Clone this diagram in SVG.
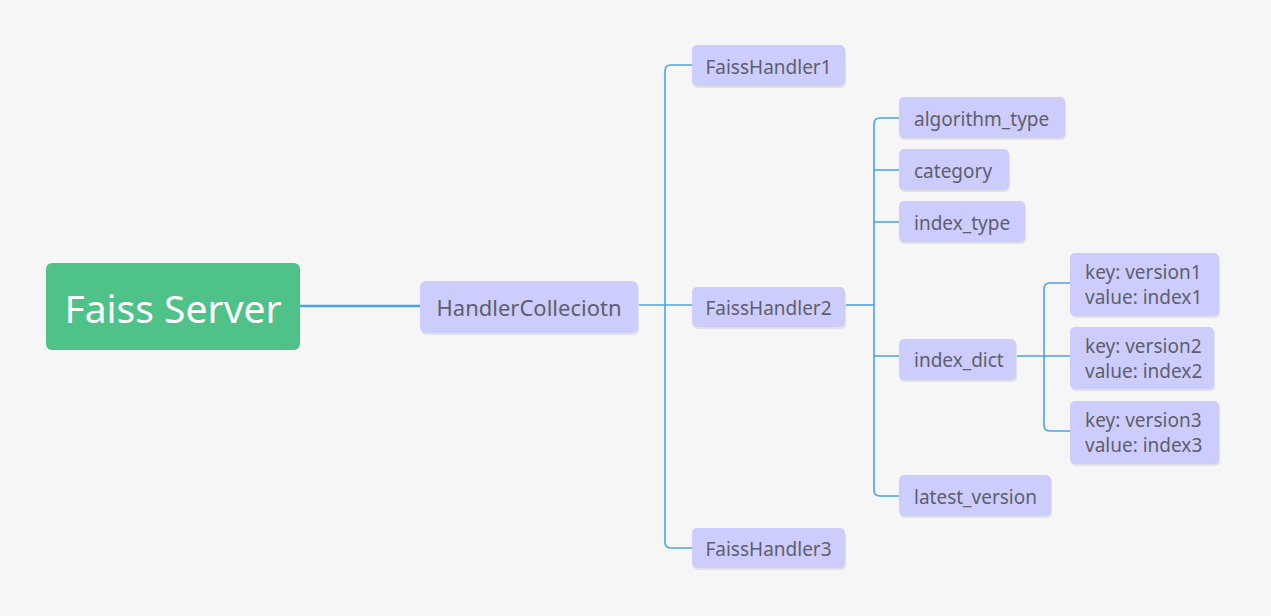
<svg xmlns="http://www.w3.org/2000/svg" width="1271" height="616" viewBox="0 0 1271 616">
<defs>
<style>
.bg{fill:#f6f6f6}
.n{fill:#cdcdfd}
.sh{fill:#e0e0e8}
.t{font-family:"Noto Sans","Open Sans",sans-serif;fill:#5e5e6e;font-size:19px}
.c{fill:none;stroke:#4aa3e8;stroke-width:1.6}
</style>
</defs>
<rect class="bg" x="0" y="0" width="1271" height="616"/>
<g id="connectors">
<path class="c" d="M300 306 H420" style="stroke-width:2.4"/>
<path class="c" d="M638 305 H692"/>
<path class="c" d="M692 65 H671 Q665 65 665 71 V542 Q665 548 671 548 H692"/>
<path class="c" d="M845 305 H874"/>
<path class="c" d="M899 118 H880 Q874 118 874 124 V490 Q874 496 880 496 H899"/>
<path class="c" d="M874 170 H899 M874 222 H899 M874 356 H899"/>
<path class="c" d="M1016 356 H1070"/>
<path class="c" d="M1070 283 H1050 Q1044 283 1044 289 V425 Q1044 431 1050 431 H1070"/>
</g>
<g id="faiss-server">
<rect x="46" y="263" width="254" height="87" rx="6" fill="#4fc28a"/>
<text x="173" y="323" text-anchor="middle" font-family="'Noto Sans','Open Sans',sans-serif" font-size="39" fill="#ffffff">Faiss Server</text>
</g>
<g id="handler-collection">
<rect class="sh" x="421" y="283" width="218" height="52" rx="6"/>
<rect class="n" x="420" y="281" width="218" height="52" rx="6"/>
<text class="t" x="529" y="316" text-anchor="middle" style="font-size:22px">HandlerColleciotn</text>
</g>
<g id="faiss-handler1">
<rect class="sh" x="693" y="47" width="153" height="41" rx="5"/>
<rect class="n" x="692" y="45" width="153" height="41" rx="5"/>
<text class="t" x="768.5" y="74" text-anchor="middle">FaissHandler1</text>
</g>
<g id="faiss-handler2">
<rect class="sh" x="693" y="289" width="153" height="40" rx="5"/>
<rect class="n" x="692" y="287" width="153" height="40" rx="5"/>
<text class="t" x="768.5" y="315" text-anchor="middle">FaissHandler2</text>
</g>
<g id="faiss-handler3">
<rect class="sh" x="693" y="530" width="153" height="40" rx="5"/>
<rect class="n" x="692" y="528" width="153" height="40" rx="5"/>
<text class="t" x="768.5" y="556" text-anchor="middle">FaissHandler3</text>
</g>
<g id="algorithm-type">
<rect class="sh" x="900" y="99" width="166" height="41" rx="5"/>
<rect class="n" x="899" y="97" width="166" height="41" rx="5"/>
<text class="t" x="914" y="126">algorithm_type</text>
</g>
<g id="category">
<rect class="sh" x="900" y="151" width="110" height="41" rx="5"/>
<rect class="n" x="899" y="149" width="110" height="41" rx="5"/>
<text class="t" x="914" y="178">category</text>
</g>
<g id="index-type">
<rect class="sh" x="900" y="203" width="126" height="41" rx="5"/>
<rect class="n" x="899" y="201" width="126" height="41" rx="5"/>
<text class="t" x="914" y="230">index_type</text>
</g>
<g id="index-dict">
<rect class="sh" x="900" y="341" width="117" height="41" rx="5"/>
<rect class="n" x="899" y="339" width="117" height="41" rx="5"/>
<text class="t" x="914" y="367">index_dict</text>
</g>
<g id="latest-version">
<rect class="sh" x="900" y="477" width="152" height="41" rx="5"/>
<rect class="n" x="899" y="475" width="152" height="41" rx="5"/>
<text class="t" x="914" y="504">latest_version</text>
</g>
<g id="kv1">
<rect class="sh" x="1071" y="255" width="149" height="63" rx="5"/>
<rect class="n" x="1070" y="253" width="149" height="63" rx="5"/>
<text class="t" x="1085" y="279">key: version1</text>
<text class="t" x="1085" y="304">value: index1</text>
</g>
<g id="kv2">
<rect class="sh" x="1071" y="329" width="144" height="62" rx="5"/>
<rect class="n" x="1070" y="327" width="144" height="62" rx="5"/>
<text class="t" x="1085" y="353">key: version2</text>
<text class="t" x="1085" y="378">value: index2</text>
</g>
<g id="kv3">
<rect class="sh" x="1071" y="403" width="149" height="63" rx="5"/>
<rect class="n" x="1070" y="401" width="149" height="63" rx="5"/>
<text class="t" x="1085" y="427">key: version3</text>
<text class="t" x="1085" y="452">value: index3</text>
</g>
</svg>
